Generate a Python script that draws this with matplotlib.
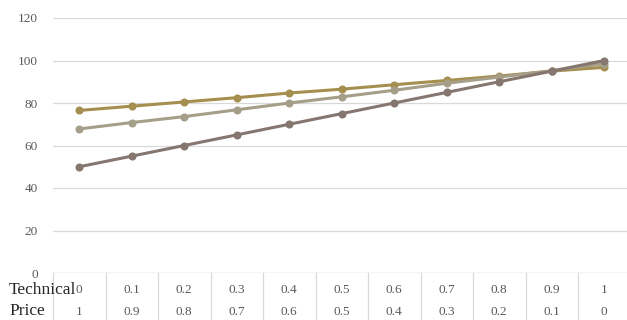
import matplotlib
matplotlib.use("Agg")
import matplotlib.pyplot as plt
from matplotlib.lines import Line2D
from matplotlib.transforms import blended_transform_factory

technical = ["0", "0.1", "0.2", "0.3", "0.4", "0.5", "0.6", "0.7", "0.8", "0.9", "1"]
price = ["1", "0.9", "0.8", "0.7", "0.6", "0.5", "0.4", "0.3", "0.2", "0.1", "0"]

series_gold = [76.5, 78.5, 80.5, 82.5, 84.7, 86.5, 88.6, 90.6, 92.7, 95.0, 96.8]
series_taupe = [67.8, 70.8, 73.6, 76.8, 80.0, 82.9, 86.0, 89.3, 92.2, 95.2, 98.5]
series_brown = [50, 55, 60, 65, 70, 75, 80, 85, 90, 95, 100]

yticks = [0, 20, 40, 60, 80, 100, 120]

colors = {"gold": "#A58F4F", "taupe": "#A59E89", "brown": "#85766F"}
serif = ["Liberation Serif", "DejaVu Serif"]
grid_color = "#D9D9D9"
label_color = "#595959"

W, H = 627, 320
fig = plt.figure(figsize=(W / 100, H / 100), dpi=100)
left, right, top, bottom = 53, 630.5, 18, 273
ax = fig.add_axes([left / W, 1 - bottom / H, (right - left) / W, (bottom - top) / H])

x = list(range(len(technical)))
for vals, key in [(series_gold, "gold"), (series_taupe, "taupe"), (series_brown, "brown")]:
    ax.plot(x, vals, color=colors[key], lw=2.2, marker="o", ms=5.8,
            markeredgewidth=0, solid_capstyle="round", zorder=3, clip_on=False)

ax.set_xlim(-0.5, len(x) - 0.5)
ax.set_ylim(0, 120)
ax.set_yticks(yticks)
ax.set_yticklabels([str(v) for v in yticks], fontfamily=serif, fontsize=9.5, color=label_color)
ax.tick_params(axis="y", length=0, pad=11)
ax.set_xticks([])
ax.grid(axis="y", color=grid_color, lw=0.9)
ax.set_axisbelow(True)
for s in ax.spines.values():
    s.set_visible(False)
ax.axhline(0, color=grid_color, lw=0.9, zorder=1)

# data table beneath the axis
blend = blended_transform_factory(ax.transData, fig.transFigure)
fig_y = lambda py: 1 - py / H
for i in range(len(x) + 1):
    xv = i - 0.5
    fig.add_artist(Line2D([xv, xv], [fig_y(273), fig_y(320)], color=grid_color,
                          lw=0.9, transform=blend))
for i, (t, p) in enumerate(zip(technical, price)):
    fig.text(i, fig_y(290), t, transform=blend, ha="center", va="center",
             fontfamily=serif, fontsize=9.5, color=label_color)
    fig.text(i, fig_y(312), p, transform=blend, ha="center", va="center",
             fontfamily=serif, fontsize=9.5, color=label_color)
fig.text(9 / W, fig_y(290), "Technical", ha="left", va="center",
         fontfamily=serif, fontsize=12.5, color="#262626")
fig.text(9 / W, fig_y(311), "Price", ha="left", va="center",
         fontfamily=serif, fontsize=12.5, color="#262626")

fig.savefig("out.png", dpi=100, facecolor="white")
